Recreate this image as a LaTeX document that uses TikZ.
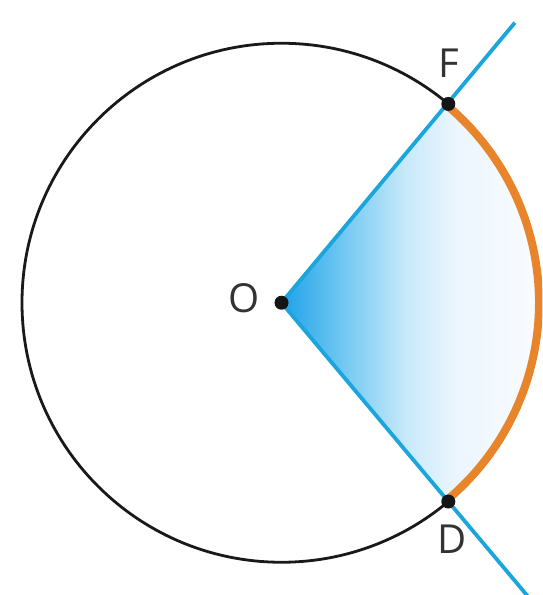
\documentclass[tikz,border=0pt]{standalone}
\usepackage{fontspec}
\setmainfont{Open Sans}
\definecolor{lineblue}{HTML}{1AA6DC}
\definecolor{arcorange}{HTML}{E8842A}
\definecolor{txtgray}{HTML}{333333}
\definecolor{dotblack}{HTML}{151515}
\definecolor{sA}{HTML}{1FA2EA}
\definecolor{sB}{HTML}{72C8F2}
\definecolor{sC}{HTML}{C8E9FA}
\definecolor{sD}{HTML}{ECF6FE}
\definecolor{sE}{HTML}{F8FBFF}
\pgfdeclarehorizontalshading{sectshade}{100bp}{color(0bp)=(sA); color(25bp)=(sA); color(36.5bp)=(sB); color(48bp)=(sC); color(57.5bp)=(sD); color(71bp)=(sE); color(75bp)=(sE); color(100bp)=(sE)}
\begin{document}
\begin{tikzpicture}[x=1pt,y=1pt,
  circline/.style={draw=black!90, line width=2.8pt},
  rayline/.style={draw=lineblue, line width=3.8pt},
  arcline/.style={draw=arcorange, line width=8pt},
  ptdot/.style={circle, fill=dotblack, inner sep=0pt, minimum size=14pt},
  lbl/.style={inner sep=0pt, text=txtgray, font=\fontsize{40}{48}\selectfont}]
\useasboundingbox (0,0) rectangle (542,595);
\clip (0,0) rectangle (542,595);
\fill[white] (0,0) rectangle (542,595);
\coordinate (O) at (281.5,292.25);
\path (O) ++(50:259.5) coordinate (F);
\path (O) ++(-50:259.5) coordinate (D);
\path (O) ++(50.2:364.6) coordinate (Fend);
\path (O) ++(-50:430) coordinate (Dend);
% shaded sector
\shade[shading=sectshade] (O) -- ++(-50:258) arc[start angle=-50, end angle=50, radius=258] -- cycle;
% circle
\draw[circline] (O) circle[radius=259.5];
% orange arc
\draw[arcline] (O) ++(-50:257.5) arc[start angle=-50, end angle=50, radius=257.5];
% rays
\draw[rayline] (O) -- (Fend);
\draw[rayline] (O) -- (Dend);
% dots
\node[ptdot] (Odot) at (O) {};
\node[ptdot] (Fdot) at (F) {};
\node[ptdot] (Ddot) at (D) {};
% labels
\node[lbl] (Olbl) at (244.5,297) {O};
\node[lbl] (Flbl) at (449,532) {F};
\node[lbl] (Dlbl) at (452,56) {D};
\end{tikzpicture}
\end{document}
